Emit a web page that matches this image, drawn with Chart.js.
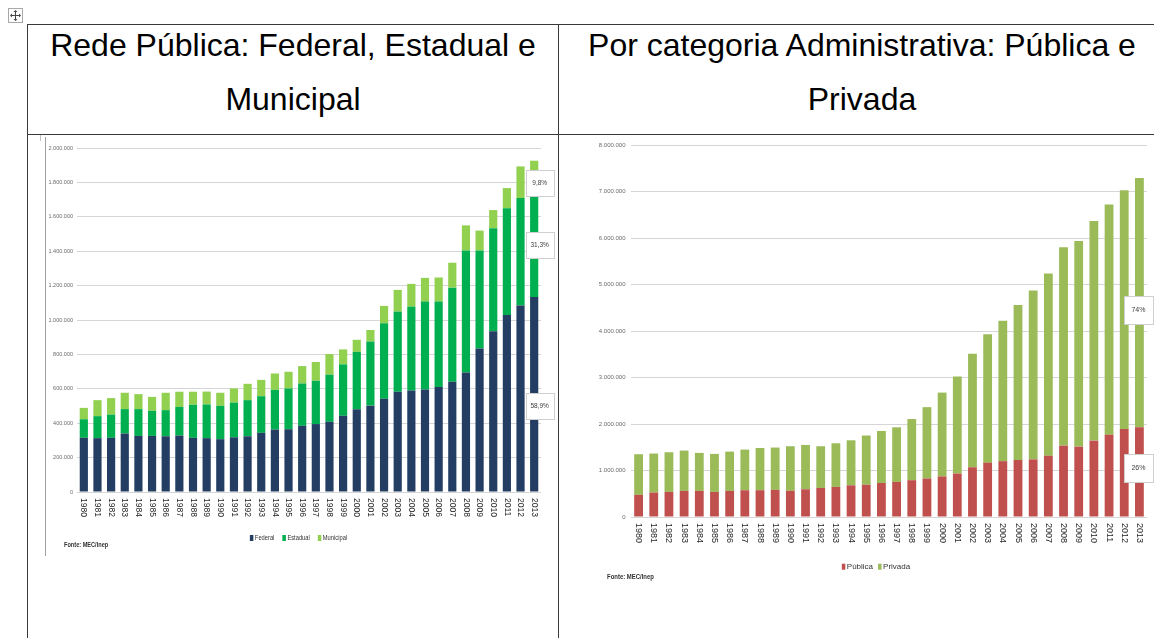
<!DOCTYPE html>
<html><head><meta charset="utf-8">
<script src="https://cdn.jsdelivr.net/npm/chart.js@4.4.0/dist/chart.umd.min.js"></script>
<style>
html,body{margin:0;padding:0;background:#fff;width:1154px;height:638px;overflow:hidden;position:relative;}
.abs{position:absolute;}
.hl{position:absolute;background:#3a3a3a;height:1px;}
.vl{position:absolute;background:#3a3a3a;width:1px;}
.head{position:absolute;font-family:"Liberation Sans",Arial,sans-serif;font-size:32px;color:#000;white-space:nowrap;text-align:center;line-height:54px;height:54px;}
canvas{position:absolute;}
</style></head><body>

<svg class="abs" style="left:8px;top:8px" width="15" height="15"><rect x="0.5" y="0.5" width="14" height="14" fill="#fff" stroke="#a8a8a8"/><path d="M7.5 3.5v8M3.5 7.5h8" stroke="#444" stroke-width="1"/><path d="M7.5 2l-2 2h4zM7.5 13l-2-2h4zM2 7.5l2-2v4zM13 7.5l-2-2v4z" fill="#444"/></svg>

<div class="hl" style="left:27px;top:24px;width:1140px"></div>
<div class="hl" style="left:27px;top:134px;width:1140px"></div>
<div class="vl" style="left:27px;top:24px;height:620px"></div>
<div class="vl" style="left:558px;top:24px;height:620px"></div>

<div class="head" style="left:27px;width:532px;top:18px">Rede Pública: Federal, Estadual e</div>
<div class="head" style="left:27px;width:532px;top:72px">Municipal</div>
<div class="head" style="left:562px;width:600px;top:18px">Por categoria Administrativa: Pública e</div>
<div class="head" style="left:562px;width:600px;top:72px">Privada</div>

<div class="abs" style="left:45px;top:137px;width:1px;height:419px;background:#a0a0a0"></div>
<div class="abs" style="left:40px;top:135px;width:1px;height:6px;background:#c0c0c0"></div>

<canvas id="c1" width="512" height="422" style="left:44px;top:136px"></canvas>
<canvas id="c2" width="576" height="452" style="left:578px;top:136px"></canvas>

<script>
// ---- data ----
const years = ['1980','1981','1982','1983','1984','1985','1986','1987','1988','1989','1990','1991','1992','1993','1994','1995','1996','1997','1998','1999','2000','2001','2002','2003','2004','2005','2006','2007','2008','2009','2010','2011','2012','2013'];

const federal   = [315000,313000,315000,340000,326000,326000,324000,328000,315000,313000,307000,318000,324000,344000,363000,365000,385000,395000,408000,443000,481000,502000,542000,583000,590000,596000,610000,641000,695000,835000,934000,1029000,1085000,1134000];
const estadual  = [108000,128000,135000,142000,156000,146000,152000,167000,192000,196000,194000,202000,210000,213000,231000,237000,246000,252000,274000,299000,334000,373000,439000,466000,488000,511000,497000,547000,709000,569000,600000,620000,624000,603000];
const municipal = [66000,93000,96000,95000,87000,81000,101000,88000,76000,75000,76000,82000,95000,95000,95000,97000,101000,109000,120000,87000,70000,67000,101000,126000,132000,138000,140000,145000,146000,116000,105000,118000,184000,189000];

const publica = [476000,526000,540000,561000,561000,540000,561000,576000,576000,584000,565000,597000,625000,647000,682000,694000,731000,755000,792000,828000,873000,935000,1070000,1169000,1201000,1226000,1240000,1319000,1536000,1514000,1643000,1771000,1893000,1929000];
const privada = [874000,839000,853000,868000,818000,817000,846000,874000,909000,910000,957000,953000,897000,939000,968000,1059000,1120000,1174000,1315000,1535000,1803000,2090000,2442000,2763000,3019000,3335000,3630000,3921000,4265000,4422000,4726000,4952000,5135000,5362000];

const shares1 = ['58,9%','31,3%','9,8%'];   // Federal, Estadual, Municipal (2013)
const shares2 = ['26%','74%'];              // Pública, Privada (2013)
const sourceText = 'Fonte: MEC/Inep';

const fmt = v => String(v).replace(/\B(?=(\d{3})+(?!\d))/g, '.');

// ---- plugins ----
const xLabels = {
  id:'xlabels',
  afterDraw(chart, a, o){
    const ctx = chart.ctx, xs = chart.scales.x;
    ctx.save();
    ctx.font = o.font; ctx.fillStyle = o.color; ctx.textAlign='left'; ctx.textBaseline='middle';
    chart.data.labels.forEach((lab,i)=>{
      const x = xs.getPixelForValue(i);
      ctx.save();
      ctx.translate(x, chart.chartArea.bottom + o.gap);
      ctx.rotate(Math.PI/2);
      ctx.scale(o.sx, o.sy);
      ctx.fillText(lab, 0, 0);
      ctx.restore();
    });
    ctx.restore();
  }
};
const legendP = {
  id:'mlegend',
  afterDraw(chart, a, o){
    const ctx = chart.ctx;
    ctx.save();
    ctx.font = o.font; ctx.textBaseline='middle'; ctx.textAlign='left';
    const items = chart.data.datasets.map(ds=>({c:ds.backgroundColor, t:ds.label, w:ctx.measureText(ds.label).width*o.sx}));
    let total = 0;
    items.forEach((it,i)=>{ total += o.boxW + o.gap1 + it.w + (i<items.length-1?o.gap2:0); });
    let x = o.cx - total/2;
    items.forEach(it=>{
      ctx.fillStyle = it.c;
      ctx.fillRect(x, o.y - o.boxH/2, o.boxW, o.boxH);
      x += o.boxW + o.gap1;
      ctx.save(); ctx.translate(x, o.y); ctx.scale(o.sx,1); ctx.fillStyle = o.color; ctx.fillText(it.t,0,0); ctx.restore();
      x += it.w + o.gap2;
    });
    // source
    ctx.font = o.srcFont; ctx.fillStyle = o.color;
    ctx.save(); ctx.translate(o.srcX, o.srcY); ctx.scale(o.srcSx,1); ctx.fillText(sourceText,0,0); ctx.restore();
    ctx.restore();
  }
};
const callout = {
  id:'callout',
  afterDatasetsDraw(chart, a, o){
    const ctx = chart.ctx, last = chart.data.labels.length-1;
    ctx.save();
    o.texts.forEach((t,k)=>{
      const el = chart.getDatasetMeta(k).data[last];
      const yc = (el.y + el.base)/2 + o.dy[k];
      const xc = el.x + o.dx;
      const x0 = Math.round(xc - o.w/2)+0.5, y0 = Math.round(yc - o.h/2)+0.5;
      ctx.fillStyle='#fff'; ctx.fillRect(x0,y0,o.w,o.h);
      ctx.strokeStyle='#cfcfcf'; ctx.lineWidth=1; ctx.strokeRect(x0,y0,o.w,o.h);
      ctx.fillStyle='#404040'; ctx.font=o.font; ctx.textAlign='center'; ctx.textBaseline='middle';
      ctx.fillText(t, xc, yc);
    });
    ctx.restore();
  }
};

function makeChart(id, datasets, cfg){
  return new Chart(document.getElementById(id), {
    type:'bar',
    data:{labels:years, datasets},
    options:{
      responsive:false, animation:false, devicePixelRatio:1,
      layout:{padding:{left:0,right:cfg.padR,top:cfg.padT,bottom:0}},
      plugins:{legend:{display:false}, tooltip:{enabled:false},
        xlabels:cfg.xl, mlegend:cfg.lg, callout:cfg.co},
      scales:{
        x:{stacked:true, grid:{display:false}, border:{display:false}, ticks:{display:false},
           afterFit:s=>{s.height=cfg.xH;}},
        y:{stacked:true, min:0, max:cfg.max, border:{display:false},
           grid:{color:'#d6d6d6', lineWidth:1, drawTicks:false},
           ticks:{stepSize:cfg.step, padding:cfg.tPad, color:'#6a6a6a', font:{family:'Liberation Sans', size:cfg.tFont}, callback:v=>fmt(v)},
           afterFit:s=>{s.width=cfg.yW;}}
      }
    },
    plugins:[xLabels, legendP, callout]
  });
}

makeChart('c1', [
  {label:'Federal', data:federal, backgroundColor:'#233e62', barPercentage:0.6, categoryPercentage:1},
  {label:'Estadual', data:estadual, backgroundColor:'#00b050', barPercentage:0.6, categoryPercentage:1},
  {label:'Municipal', data:municipal, backgroundColor:'#92d050', barPercentage:0.6, categoryPercentage:1}
], {padR:15, padT:12, xH:66, yW:33, max:2000000, step:200000, tPad:4, tFont:5.5,
    xl:{font:'8.5px "Liberation Sans"', color:'#262626', gap:6, sx:1, sy:1},
    lg:{font:'8px "Liberation Sans"', color:'#333333', cx:254.5, y:402, boxW:3.5, boxH:6, gap1:1.5, gap2:8, sx:0.72,
        srcFont:'bold 7px "Liberation Sans"', srcX:20, srcY:409.5, srcSx:0.8},
    co:{texts:shares1, dx:5.5, dy:[12,0,6], w:28, h:26, font:'6.5px "Liberation Sans"'}
});

makeChart('c2', [
  {label:'Pública', data:publica, backgroundColor:'#c0504d', barPercentage:0.58, categoryPercentage:1},
  {label:'Privada', data:privada, backgroundColor:'#9bbb59', barPercentage:0.58, categoryPercentage:1}
], {padR:7, padT:6, xH:71, yW:53, max:8000000, step:1000000, tPad:5.5, tFont:6,
    xl:{font:'9px "Liberation Sans"', color:'#262626', gap:6, sx:1, sy:1},
    lg:{font:'8px "Liberation Sans"', color:'#333333', cx:298, y:430.7, boxW:3.5, boxH:6, gap1:1.5, gap2:5, sx:1,
        srcFont:'bold 7px "Liberation Sans"', srcX:29, srcY:441, srcSx:0.85},
    co:{texts:shares2, dx:-1, dy:[-3.5,7.5], w:29, h:28, font:'7px "Liberation Sans"'}
});
</script>
</body></html>
